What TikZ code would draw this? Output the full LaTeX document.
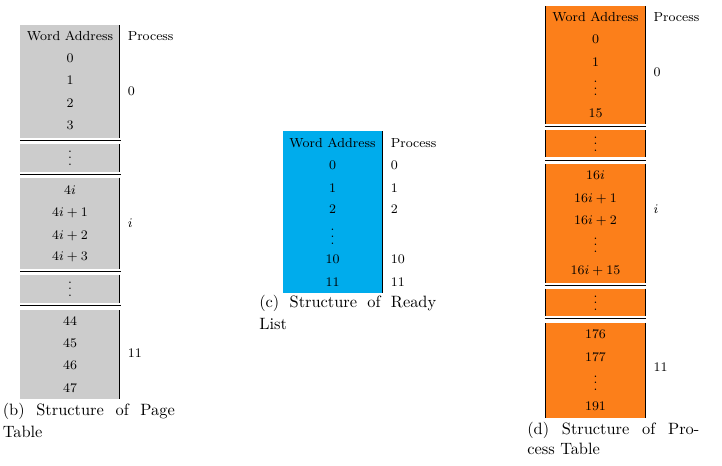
\documentclass[tikz,border=0pt]{standalone}
\definecolor{pgray}{RGB}{204,204,204}
\definecolor{pblue}{RGB}{0,172,236}
\definecolor{porange}{RGB}{252,127,26}
\tikzset{
  cell/.style={font=\footnotesize, text height=5.3pt, text depth=0pt, inner sep=0pt, anchor=center},
  vd/.style={font=\footnotesize, text height=9pt, text depth=0pt, inner sep=0pt, anchor=center},
  plabel/.style={font=\footnotesize, text height=5.3pt, text depth=0pt, inner sep=0pt, anchor=west},
  rule/.style={line width=0.5pt, black},
  captext/.style={inner sep=0pt, anchor=base west}
}
\begin{document}
\begin{tikzpicture}[x=0.6098pt,y=-0.6098pt]
\useasboundingbox (0,0) rectangle (722,465);

% ---------------- (b) Page table ----------------
\foreach \ya/\yb in {25/137.7, 144/171.7, 177.7/269, 274.7/303.3, 310/399}{
  \fill[pgray] (20,\ya) rectangle (119.5,\yb);
  \draw[rule] (119.5,\ya) -- (119.5,\yb);
}
\foreach \y in {140.4, 174.4, 271.7, 305.3}{
  \draw[rule] (20,\y) -- (121,\y);
}
\foreach \t/\y/\n in {{Word Address}/36/wa, 0/58/a0, 1/80.5/a1, 2/103/a2, 3/125.5/a3,
  {$4i$}/190/ai0, {$4i+1$}/212.5/ai1, {$4i+2$}/235/ai2, {$4i+3$}/256.5/ai3,
  44/321/a44, 45/343.5/a45, 46/365.5/a46, 47/388/a47}{
  \node[cell] (b-\n) at (70,\y) {\t};
}
\node[vd] (b-d1) at (70,158) {$\vdots$};
\node[vd] (b-d2) at (70,289) {$\vdots$};
\node[plabel] (b-ph) at (127.5,36) {Process};
\node[plabel] (b-p0) at (127.5,91) {0};
\node[plabel] (b-pi) at (127.5,223) {$i$};
\node[plabel] (b-p11) at (127.5,353.5) {11};
\node[captext] (b-cap) at (2.5,415.7) {\parbox[t]{104.9pt}{\fontsize{10}{13}\selectfont\noindent\makebox[104.9pt][s]{(b) Structure of Page}\\Table}};

% ---------------- (c) Ready list ----------------
\fill[pblue] (283.3,131) rectangle (382,293.3);
\draw[rule] (382,131) -- (382,293.3);
\foreach \t/\y/\n in {{Word Address}/142.7/wa, 0/165/a0, 1/187.7/a1, 2/209.5/a2, 10/259.3/a10, 11/281.7/a11}{
  \node[cell] (c-\n) at (332.5,\y) {\t};
}
\node[vd] (c-d) at (332.5,236.7) {$\vdots$};
\foreach \t/\y/\n in {Process/142.7/ph, 0/165/p0, 1/187.7/p1, 2/209.5/p2, 10/259.3/p10, 11/281.7/p11}{
  \node[plabel] (c-\n) at (390.5,\y) {\t};
}
\node[captext] (c-cap) at (259,307.7) {\parbox[t]{107.9pt}{\fontsize{10}{13}\selectfont\noindent\makebox[107.9pt][s]{(c) Structure of Ready}\\List}};

% ---------------- (d) Process table ----------------
\foreach \ya/\yb in {6/124, 130/157.3, 164/283.3, 288.5/316, 323/418.3}{
  \fill[porange] (545.5,\ya) rectangle (645.5,\yb);
  \draw[rule] (545.5,\ya) -- (545.5,\yb);
  \draw[rule] (645.5,\ya) -- (645.5,\yb);
}
\foreach \y in {126.5, 160, 285.5, 318.7}{
  \draw[rule] (545,\y) -- (646,\y);
}
\foreach \t/\y/\n in {{Word Address}/16.7/wa, 0/39.3/a0, 1/62.5/a1, 15/112.7/a15,
  {$16i$}/175.5/ai0, {$16i+1$}/198/ai1, {$16i+2$}/220.5/ai2, {$16i+15$}/270.5/ai15,
  176/334/a176, 177/356.7/a177, 191/406/a191}{
  \node[cell] (d-\n) at (595.5,\y) {\t};
}
\foreach \y/\n in {88.3/d1, 144/d2, 245/d3, 303/d4, 383/d5}{
  \node[vd] (d-\n) at (595.5,\y) {$\vdots$};
}
\node[plabel] (d-ph) at (653.3,17) {Process};
\node[plabel] (d-p0) at (653.3,72) {0};
\node[plabel] (d-pi) at (653.3,209) {$i$};
\node[plabel] (d-p11) at (653.3,367) {11};
\node[captext] (d-cap) at (527,434.7) {\parbox[t]{104.9pt}{\fontsize{10}{12.2}\selectfont\noindent\makebox[104.9pt][s]{(d) Structure of Pro-}\\cess Table}};
\end{tikzpicture}
\end{document}
